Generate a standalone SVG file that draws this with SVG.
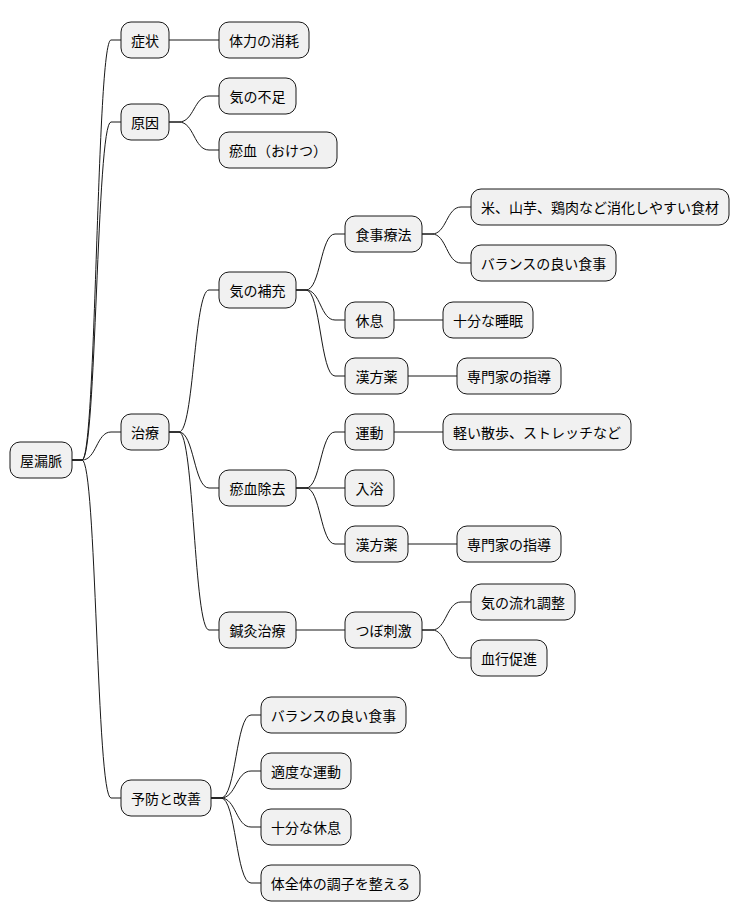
<svg xmlns="http://www.w3.org/2000/svg" width="740" height="921" viewBox="0 0 740 921">
<style>
rect{fill:#F1F1F1;stroke:#181818;stroke-width:1}
text{font-family:"Noto Sans CJK JP","Noto Sans",sans-serif;font-size:14px;fill:#000;text-anchor:middle;dominant-baseline:central}
#c path{fill:none;stroke:#181818;stroke-width:1}
</style>
<rect x="0" y="0" width="740" height="921" style="fill:#fff;stroke:none"/>
<g id="c">
<path d="M72,460 L82,460 C96.5,460 96.5,40 111,40 L121,40"/>
<path d="M72,460 L82,460 C96.5,460 96.5,122 111,122 L121,122"/>
<path d="M72,460 L82,460 C96.5,460 96.5,432 111,432 L121,432"/>
<path d="M72,460 L82,460 C96.5,460 96.5,798 111,798 L121,798"/>
<path d="M169,40 L219,40"/>
<path d="M169,122 L179,122 C194,122 194,96 209,96 L219,96"/>
<path d="M169,122 L179,122 C194,122 194,150 209,150 L219,150"/>
<path d="M169,432 L179,432 C194,432 194,290 209,290 L219,290"/>
<path d="M169,432 L179,432 C194,432 194,488 209,488 L219,488"/>
<path d="M169,432 L179,432 C194,432 194,630 209,630 L219,630"/>
<path d="M296,290 L306,290 C320.5,290 320.5,234 335,234 L345,234"/>
<path d="M296,290 L306,290 C320.5,290 320.5,320 335,320 L345,320"/>
<path d="M296,290 L306,290 C320.5,290 320.5,376 335,376 L345,376"/>
<path d="M422,234 L432,234 C446.5,234 446.5,207 461,207 L471,207"/>
<path d="M422,234 L432,234 C446.5,234 446.5,263 461,263 L471,263"/>
<path d="M394,320 L443,320"/>
<path d="M408,376 L457,376"/>
<path d="M296,488 L306,488 C320.5,488 320.5,432 335,432 L345,432"/>
<path d="M296,488 L345,488"/>
<path d="M296,488 L306,488 C320.5,488 320.5,544 335,544 L345,544"/>
<path d="M394,432 L443,432"/>
<path d="M408,544 L457,544"/>
<path d="M296,630 L345,630"/>
<path d="M422,630 L432,630 C446.5,630 446.5,602 461,602 L471,602"/>
<path d="M422,630 L432,630 C446.5,630 446.5,658 461,658 L471,658"/>
<path d="M211,798 L221,798 C236,798 236,715 251,715 L261,715"/>
<path d="M211,798 L221,798 C236,798 236,771 251,771 L261,771"/>
<path d="M211,798 L221,798 C236,798 236,827 251,827 L261,827"/>
<path d="M211,798 L221,798 C236,798 236,883 251,883 L261,883"/>
</g>
<g id="n0"><rect x="10" y="442" width="62" height="36" rx="10"/><text x="41" y="460">屋漏脈</text></g>
<g id="n1"><rect x="121" y="22" width="48" height="36" rx="10"/><text x="145" y="40">症状</text></g>
<g id="n2"><rect x="219" y="22" width="90" height="36" rx="10"/><text x="264" y="40">体力の消耗</text></g>
<g id="n3"><rect x="121" y="104" width="48" height="36" rx="10"/><text x="145" y="122">原因</text></g>
<g id="n4"><rect x="219" y="78" width="77" height="36" rx="10"/><text x="257.5" y="96">気の不足</text></g>
<g id="n5"><rect x="219" y="132" width="118" height="36" rx="10"/><text x="278" y="150">瘀血（おけつ）</text></g>
<g id="n6"><rect x="121" y="414" width="48" height="36" rx="10"/><text x="145" y="432">治療</text></g>
<g id="n7"><rect x="219" y="272" width="77" height="36" rx="10"/><text x="257.5" y="290">気の補充</text></g>
<g id="n8"><rect x="345" y="216" width="77" height="36" rx="10"/><text x="383.5" y="234">食事療法</text></g>
<g id="n9"><rect x="471" y="189" width="258" height="36" rx="10"/><text x="600" y="207">米、山芋、鶏肉など消化しやすい食材</text></g>
<g id="n10"><rect x="471" y="245" width="145" height="36" rx="10"/><text x="543.5" y="263">バランスの良い食事</text></g>
<g id="n11"><rect x="345" y="302" width="49" height="36" rx="10"/><text x="369.5" y="320">休息</text></g>
<g id="n12"><rect x="443" y="302" width="90" height="36" rx="10"/><text x="488" y="320">十分な睡眠</text></g>
<g id="n13"><rect x="345" y="358" width="63" height="36" rx="10"/><text x="376.5" y="376">漢方薬</text></g>
<g id="n14"><rect x="457" y="358" width="104" height="36" rx="10"/><text x="509" y="376">専門家の指導</text></g>
<g id="n15"><rect x="219" y="470" width="77" height="36" rx="10"/><text x="257.5" y="488">瘀血除去</text></g>
<g id="n16"><rect x="345" y="414" width="49" height="36" rx="10"/><text x="369.5" y="432">運動</text></g>
<g id="n17"><rect x="443" y="414" width="188" height="36" rx="10"/><text x="537" y="432">軽い散歩、ストレッチなど</text></g>
<g id="n18"><rect x="345" y="470" width="49" height="36" rx="10"/><text x="369.5" y="488">入浴</text></g>
<g id="n19"><rect x="345" y="526" width="63" height="36" rx="10"/><text x="376.5" y="544">漢方薬</text></g>
<g id="n20"><rect x="457" y="526" width="104" height="36" rx="10"/><text x="509" y="544">専門家の指導</text></g>
<g id="n21"><rect x="219" y="612" width="77" height="36" rx="10"/><text x="257.5" y="630">鍼灸治療</text></g>
<g id="n22"><rect x="345" y="612" width="77" height="36" rx="10"/><text x="383.5" y="630">つぼ刺激</text></g>
<g id="n23"><rect x="471" y="584" width="104" height="36" rx="10"/><text x="523" y="602">気の流れ調整</text></g>
<g id="n24"><rect x="471" y="640" width="76" height="36" rx="10"/><text x="509" y="658">血行促進</text></g>
<g id="n25"><rect x="121" y="780" width="90" height="36" rx="10"/><text x="166" y="798">予防と改善</text></g>
<g id="n26"><rect x="261" y="697" width="145" height="36" rx="10"/><text x="333.5" y="715">バランスの良い食事</text></g>
<g id="n27"><rect x="261" y="753" width="90" height="36" rx="10"/><text x="306" y="771">適度な運動</text></g>
<g id="n28"><rect x="261" y="809" width="90" height="36" rx="10"/><text x="306" y="827">十分な休息</text></g>
<g id="n29"><rect x="261" y="865" width="159" height="36" rx="10"/><text x="340.5" y="883">体全体の調子を整える</text></g>
</svg>
